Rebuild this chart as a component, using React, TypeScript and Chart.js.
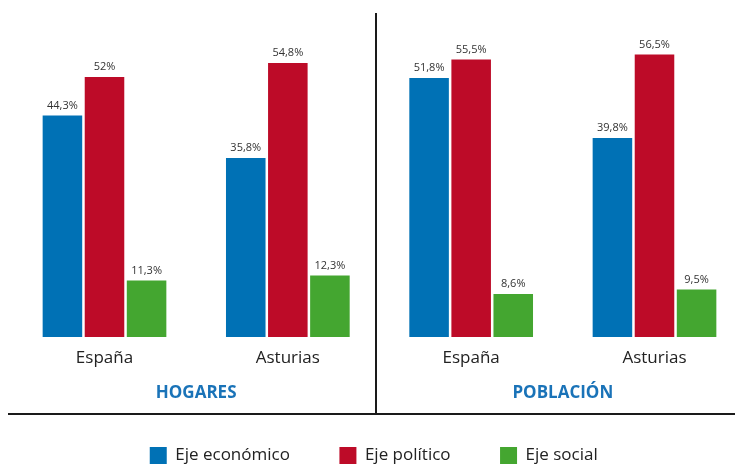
import React, { useEffect, useRef } from 'react';
import { Chart, registerables } from 'chart.js';

Chart.register(...registerables);

const categories = ['España', 'Asturias', 'España', 'Asturias'];
const groupLabels = ['HOGARES', 'POBLACIÓN'];
const seriesNames = ['Eje económico', 'Eje político', 'Eje social'];
const economico = [44.3, 35.8, 51.8, 39.8];
const politico = [52, 54.8, 55.5, 56.5];
const social = [11.3, 12.3, 8.6, 9.5];
const seriesColors = ['#0071b5', '#bd0b28', '#44a630'];

const FONT = "'Open Sans', sans-serif";

const fmt = (v: number) =>
  (Number.isInteger(v) ? String(v) : v.toFixed(1).replace('.', ',')) + '%';

const overlay = {
  id: 'overlay',
  afterDatasetsDraw(chart: any) {
    const ctx = chart.ctx;
    ctx.save();
    ctx.font = `11px ${FONT}`;
    ctx.fillStyle = '#333333';
    ctx.textAlign = 'center';
    ctx.textBaseline = 'alphabetic';
    chart.data.datasets.forEach((ds: any, di: number) => {
      const meta = chart.getDatasetMeta(di);
      meta.data.forEach((bar: any, i: number) => {
        ctx.fillText(fmt(ds.data[i]), bar.x, bar.y - 7);
      });
    });
    ctx.restore();
  },
  afterDraw(chart: any) {
    const ctx = chart.ctx;
    const xs = chart.scales.x;
    ctx.save();
    ctx.font = `bold 17px ${FONT}`;
    ctx.fillStyle = '#1a73b8';
    ctx.textAlign = 'center';
    ctx.textBaseline = 'alphabetic';
    groupLabels.forEach((g, k) => {
      ctx.fillText(g, xs.getPixelForValue(2 * k + 0.5), 398);
    });
    ctx.strokeStyle = '#1a1a1a';
    ctx.lineWidth = 2;
    ctx.beginPath();
    ctx.moveTo(376, 13);
    ctx.lineTo(376, 415);
    ctx.moveTo(8, 414);
    ctx.lineTo(735, 414);
    ctx.stroke();
    ctx.restore();
  },
};

export default function App() {
  const ref = useRef<HTMLCanvasElement | null>(null);
  useEffect(() => {
    if (!ref.current) return;
    const seriesData = [economico, politico, social];
    const chart = new Chart(ref.current, {
      type: 'bar',
      data: {
        labels: categories,
        datasets: seriesNames.map((name, i) => ({
          label: name,
          data: seriesData[i],
          backgroundColor: seriesColors[i],
          borderWidth: 0,
          categoryPercentage: 0.6885,
          barPercentage: 0.94,
          clip: false as any,
        })),
      },
      options: {
        responsive: false,
        animation: false,
        events: [],
        layout: { padding: { left: 14.5, right: 2, top: 37, bottom: 0 } },
        scales: {
          x: {
            type: 'category',
            offset: false,
            grid: { display: false, drawTicks: false },
            border: { display: false },
            ticks: {
              font: { family: FONT, size: 17 },
              color: '#222222',
              padding: 11,
              maxRotation: 0,
              autoSkip: false,
            },
            afterFit: (s: any) => {
              s.height = 60.5;
            },
          },
          y: {
            min: 0,
            max: 60,
            grid: { display: false, drawTicks: false },
            border: { display: false },
            ticks: { display: false },
            afterFit: (s: any) => {
              s.width = 90;
            },
          },
          yRight: {
            position: 'right',
            display: true,
            min: 0,
            max: 60,
            grid: { display: false, drawTicks: false },
            border: { display: false },
            ticks: { display: false },
            afterFit: (s: any) => {
              s.width = 78.5;
            },
          },
        },
        plugins: {
          legend: {
            position: 'bottom',
            labels: {
              boxWidth: 17,
              boxHeight: 17,
              padding: 49.5,
              color: '#222222',
              font: { family: FONT, size: 17 },
            },
          },
          tooltip: { enabled: false },
        },
      },
      plugins: [overlay],
    });
    return () => chart.destroy();
  }, []);
  return (
    <div
      style={{
        position: 'fixed',
        left: 0,
        top: 0,
        width: 735,
        height: 464,
        overflow: 'hidden',
        background: '#ffffff',
      }}
    >
      <canvas ref={ref} width={735} height={474} style={{ display: 'block' }} />
    </div>
  );
}
